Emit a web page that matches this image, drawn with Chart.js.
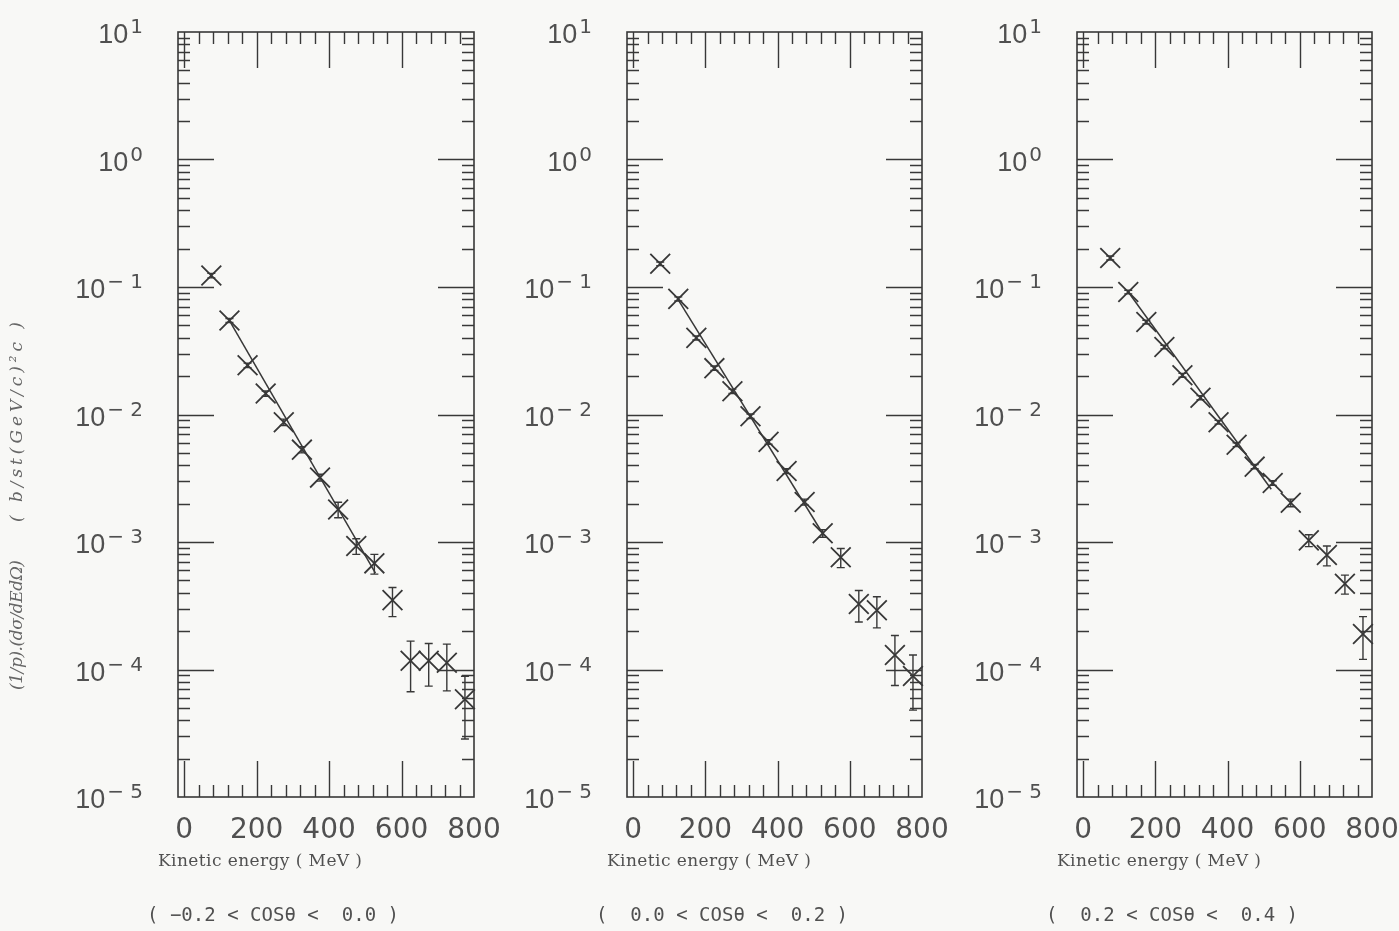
<!DOCTYPE html>
<html>
<head>
<meta charset="utf-8">
<title>Kinetic energy spectra</title>
<script src="https://cdn.jsdelivr.net/npm/chart.js@4.4.1/dist/chart.umd.min.js"></script>
<style>
  html, body { margin: 0; padding: 0; background: #f8f8f6; }
  #wrap { position: relative; width: 1399px; height: 931px; overflow: hidden; }
  .panel { position: absolute; top: 0; height: 931px; }
</style>
</head>
<body>
<div id="wrap">
  <div class="panel" style="left:0;width:500px"><canvas id="c1"></canvas></div>
  <div class="panel" style="left:500px;width:450px"><canvas id="c2"></canvas></div>
  <div class="panel" style="left:950px;width:449px"><canvas id="c3"></canvas></div>
</div>
<script>
// Bin centres of kinetic energy (MeV)
const energy = [75, 125, 175, 225, 275, 325, 375, 425, 475, 525, 575, 625, 675, 725, 775];

// (1/p)(dσ/dEdΩ) for -0.2 < cosθ < 0.0
const yieldA = [0.123, 0.0546, 0.0243, 0.0146, 0.0087, 0.0053, 0.0032, 0.0018, 0.00093, 0.00068, 0.00035, 0.000117, 0.000117, 0.000113, 0.0000585];
const errA   = [0.005, 0.002, 0.001, 0.0007, 0.0005, 0.0003, 0.0002, 0.00025, 0.00013, 0.00012, 0.00009, 0.00005, 0.000043, 0.000045, 0.00003];

// 0.0 < cosθ < 0.2
const yieldB = [0.152, 0.0807, 0.0399, 0.0231, 0.0152, 0.0097, 0.0061, 0.0036, 0.00206, 0.00117, 0.00076, 0.000326, 0.000292, 0.00013, 0.000089];
const errB   = [0.005, 0.003, 0.0015, 0.0009, 0.0006, 0.0004, 0.00025, 0.00016, 0.00011, 0.00008, 0.00013, 0.00009, 0.00008, 0.000055, 0.000041];

// 0.2 < cosθ < 0.4
const yieldC = [0.169, 0.0913, 0.0531, 0.0338, 0.0203, 0.01355, 0.0087, 0.0058, 0.0039, 0.0029, 0.00203, 0.00103, 0.00079, 0.00047, 0.00019];
const errC   = [0.006, 0.003, 0.0018, 0.0011, 0.0007, 0.0005, 0.0003, 0.0002, 0.00015, 0.00012, 0.00014, 0.00011, 0.00014, 0.00008, 0.00007];

// Exponential fit lines (end points)
const fitEA = [125, 528];  const fitYA = [0.0546, 0.00057];
const fitEB = [125, 528];  const fitYB = [0.0794, 0.00113];
const fitEC = [125, 521];  const fitYC = [0.0913, 0.00259];

// Axis ticks and labels
const xTickLabels = [0, 200, 400, 600, 800];
const yExponents = [-5, -4, -3, -2, -1, 0, 1];
const xTitle = 'Kinetic energy ( MeV )';
const yTitleLeft = '(1/p).(dσ/dEdΩ)';
const yTitleRight = '( b/st(GeV/c)²c )';
const captions = ['( −0.2 < COSθ <  0.0 )', '(  0.0 < COSθ <  0.2 )', '(  0.2 < COSθ <  0.4 )'];

const INK = '#383838';
const TEXT = '#505050';

// draw text spread evenly over a given length
function spreadText(ctx, str, x0, y0, width) {
  const w = ctx.measureText(str).width;
  const chars = Array.from(str);
  const extra = chars.length > 1 ? (width - w) / (chars.length - 1) : 0;
  let cx = x0;
  chars.forEach(ch => {
    ctx.fillText(ch, cx, y0);
    cx += ctx.measureText(ch).width + extra;
  });
}

// Boxed frame with inward ticks on all four sides, error bars and labels
const framePlugin = {
  id: 'frame',
  beforeDatasetsDraw(chart, args, opts) {
    const { ctx, chartArea: a, scales: { x, y } } = chart;
    ctx.save();
    ctx.strokeStyle = INK;
    ctx.lineWidth = 1.6;
    ctx.strokeRect(a.left, a.top, a.right - a.left, a.bottom - a.top);
    ctx.lineWidth = 1.4;
    ctx.beginPath();
    // x ticks every 40 MeV, major every 200 MeV
    for (let v = 0; v < 800; v += 40) {
      const px = Math.round(x.getPixelForValue(v)) + 0.5;
      const len = (v % 200 === 0) ? 36 : 12;
      ctx.moveTo(px, a.bottom); ctx.lineTo(px, a.bottom - len);
      ctx.moveTo(px, a.top); ctx.lineTo(px, a.top + len);
    }
    // logarithmic y ticks
    for (let e = -5; e <= 0; e++) {
      for (let m = 1; m <= 9; m++) {
        if (e === -5 && m === 1) continue;
        const py = Math.round(y.getPixelForValue(m * Math.pow(10, e))) + 0.5;
        const len = (m === 1) ? 36 : 12;
        ctx.moveTo(a.left, py); ctx.lineTo(a.left + len, py);
        ctx.moveTo(a.right, py); ctx.lineTo(a.right - len, py);
      }
    }
    ctx.stroke();

    // x tick labels
    ctx.fillStyle = TEXT;
    ctx.font = '28px "DejaVu Sans"';
    ctx.textAlign = 'center';
    ctx.textBaseline = 'middle';
    xTickLabels.forEach(v => {
      ctx.fillText(String(v), x.getPixelForValue(v), a.bottom + 34);
    });

    // y tick labels 10^n
    yExponents.forEach(e => {
      const py = y.getPixelForValue(Math.pow(10, e));
      const sup = e < 0 ? '− ' + Math.abs(e) : String(e);
      ctx.textBaseline = 'alphabetic';
      ctx.textAlign = 'right';
      ctx.font = '20px "DejaVu Sans"';
      const right = a.left - 35;
      const supW = ctx.measureText(sup).width;
      ctx.fillText(sup, right, py + 1);
      ctx.font = '27px "Liberation Sans"';
      ctx.fillText('10', right - supW - 2, py + 11);
    });

    // axis title and angular range
    ctx.textAlign = 'left';
    ctx.textBaseline = 'middle';
    ctx.font = '17px "DejaVu Serif"';
    spreadText(ctx, xTitle, a.left - 20, a.bottom + 65, 204);
    ctx.font = '19px "DejaVu Sans Mono"';
    spreadText(ctx, opts.caption, a.left - 31, a.bottom + 119, 252);

    if (opts.yTitle) {
      ctx.save();
      ctx.translate(18, 0);
      ctx.rotate(-Math.PI / 2);
      ctx.font = 'italic 17px "DejaVu Serif"';
      ctx.fillStyle = '#666';
      ctx.textAlign = 'left';
      ctx.textBaseline = 'middle';
      spreadText(ctx, yTitleLeft, -690, 0, 130);
      spreadText(ctx, yTitleRight, -522, 0, 200);
      ctx.restore();
    }
    ctx.restore();
  },
  afterDatasetsDraw(chart, args, opts) {
    const { ctx, scales: { x, y } } = chart;
    ctx.save();
    ctx.strokeStyle = INK;
    ctx.lineWidth = 1.4;
    ctx.beginPath();
    opts.values.forEach((v, i) => {
      const px = x.getPixelForValue(energy[i]);
      const top = y.getPixelForValue(v + opts.errors[i]);
      const bot = y.getPixelForValue(Math.max(v - opts.errors[i], 1e-6));
      ctx.moveTo(px, top); ctx.lineTo(px, bot);
      ctx.moveTo(px - 4, top); ctx.lineTo(px + 4, top);
      ctx.moveTo(px - 4, bot); ctx.lineTo(px + 4, bot);
    });
    ctx.stroke();
    ctx.restore();
  }
};

function makePanel(id, values, errors, fitE, fitY, caption, padLeft, padRight, yTitle) {
  const pts = energy.map((e, i) => ({ x: e, y: values[i] }));
  const fit = fitE.map((e, i) => ({ x: e, y: fitY[i] }));
  return new Chart(document.getElementById(id), {
    type: 'scatter',
    data: {
      datasets: [
        {
          data: fit, showLine: true, borderColor: INK, borderWidth: 1.5,
          pointRadius: 0, fill: false, clip: false
        },
        {
          data: pts, showLine: false, pointStyle: 'crossRot', pointRadius: 14,
          borderColor: INK, pointBorderWidth: 1.8, backgroundColor: 'transparent', clip: false
        }
      ]
    },
    options: {
      responsive: true,
      maintainAspectRatio: false,
      animation: false,
      devicePixelRatio: 1,
      layout: { padding: { left: padLeft, right: padRight, top: 32, bottom: 134 } },
      scales: {
        x: { type: 'linear', min: -17, max: 800, display: false },
        y: { type: 'logarithmic', min: 1e-5, max: 10, display: false }
      },
      plugins: {
        legend: { display: false },
        tooltip: { enabled: false },
        frame: { values, errors, caption, yTitle }
      }
    },
    plugins: [framePlugin]
  });
}

makePanel('c1', yieldA, errA, fitEA, fitYA, captions[0], 178, 26, true);
makePanel('c2', yieldB, errB, fitEB, fitYB, captions[1], 127, 28, false);
makePanel('c3', yieldC, errC, fitEC, fitYC, captions[2], 127, 27, false);
</script>
</body>
</html>
